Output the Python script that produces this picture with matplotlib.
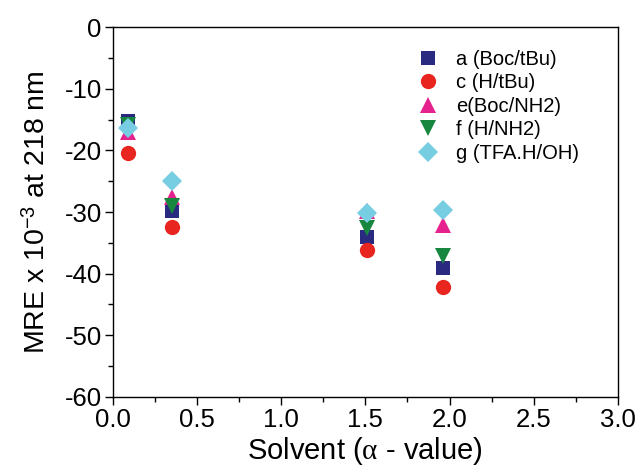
import matplotlib.pyplot as plt
from matplotlib.ticker import MultipleLocator

plt.rcParams['font.family'] = ['Liberation Sans', 'DejaVu Sans']
plt.rcParams['axes.unicode_minus'] = False
plt.rcParams['mathtext.fontset'] = 'custom'
plt.rcParams['mathtext.rm'] = 'Liberation Serif'
plt.rcParams['mathtext.sf'] = 'Liberation Sans'
plt.rcParams['mathtext.it'] = 'Liberation Serif:italic'

# solvent alpha values
alpha = [0.09, 0.35, 1.51, 1.96]

# MRE x 10^-3 at 218 nm for each compound
mre_a = [-15.2, -29.9, -34.0, -39.1]
mre_c = [-20.4, -32.4, -36.1, -42.1]
mre_e = [-17.0, -27.5, -29.9, -32.1]
mre_f = [-15.8, -29.1, -32.6, -37.1]
mre_g = [-16.4, -25.0, -30.2, -29.6]

labels = ['a (Boc/tBu)', 'c (H/tBu)', 'e(Boc/NH2)', 'f (H/NH2)', 'g (TFA.H/OH)']
series = [mre_a, mre_c, mre_e, mre_f, mre_g]
markers = ['s', 'o', '^', 'v', 'D']
colors = ['#2a2a80', '#e8251f', '#e6228e', '#17873f', '#77cde2']
sizes = [10, 11, 11, 11, 10]

fig = plt.figure(figsize=(6.37, 4.68), dpi=100)
ax = fig.add_axes([0.177, 0.152, 0.793, 0.79])

for ys, lab, m, c, s in zip(series, labels, markers, colors, sizes):
    ax.plot(alpha, ys, linestyle='none', marker=m, color=c, markersize=s,
            markeredgewidth=0, label=lab)

ax.set_xlim(0, 3)
ax.set_ylim(-60, 0)
ax.xaxis.set_major_locator(MultipleLocator(0.5))
ax.xaxis.set_minor_locator(MultipleLocator(0.25))
ax.yaxis.set_major_locator(MultipleLocator(10))
ax.yaxis.set_minor_locator(MultipleLocator(5))
ax.xaxis.set_major_formatter(plt.FormatStrFormatter('%.1f'))
ax.tick_params(which='major', length=6, width=1, labelsize=18.5, direction='out', pad=2)
ax.tick_params(which='minor', length=3.5, width=1, direction='out')
for sp in ax.spines.values():
    sp.set_linewidth(1)

ax.set_xlabel(r'Solvent ($\mathrm{\alpha}$ - value)', fontsize=21, labelpad=2)
ax.set_ylabel(r'MRE x 10$^{\mathsf{-3}}$ at 218 nm', fontsize=20.5, labelpad=10)

ax.legend(loc='upper left', bbox_to_anchor=(0.584, 0.96), frameon=False,
          fontsize=14.5, handletextpad=0.8, labelspacing=0.22, markerscale=1,
          handlelength=1.2, borderaxespad=0)

fig.savefig('out.png', dpi=100)
